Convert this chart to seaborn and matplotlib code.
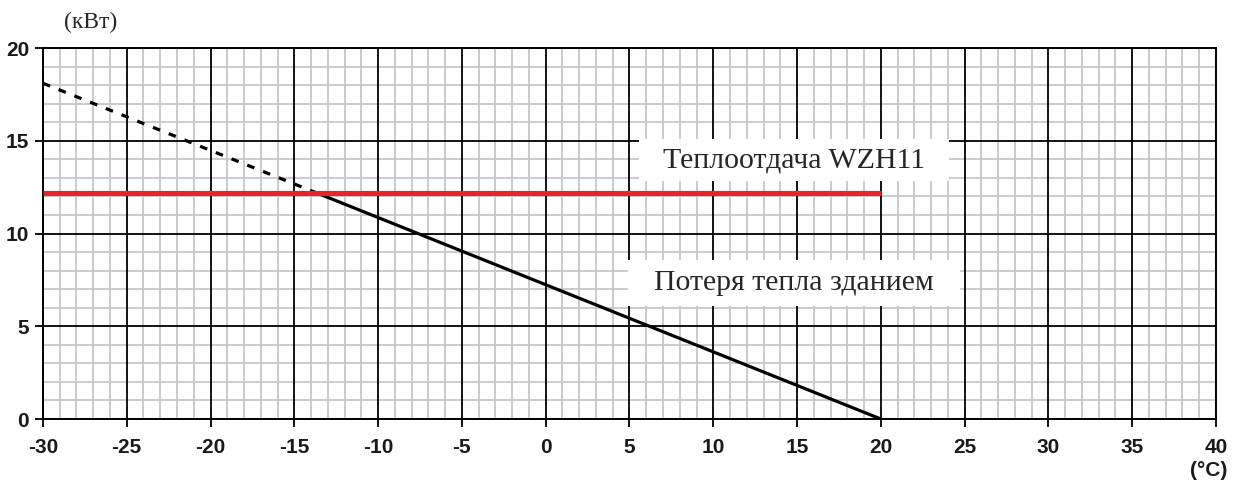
import numpy as np
import pandas as pd
import matplotlib
matplotlib.use("Agg")
import matplotlib.pyplot as plt
import seaborn as sns
from matplotlib.ticker import MultipleLocator
from matplotlib.patches import Rectangle

# Building heat loss vs outdoor temperature
loss_temp = [-30, 20]          # °C
loss_kw = [18.1, 0.0]          # kW
# Heat output of the unit
output_temp = [-30, 20]
output_kw = [12.2, 12.2]

x_ticks = [-30, -25, -20, -15, -10, -5, 0, 5, 10, 15, 20, 25, 30, 35, 40]
y_ticks = [0, 5, 10, 15, 20]

label_output = "Теплоотдача WZH11"
label_loss = "Потеря тепла зданием"

sns.set_theme(style="white")
sans_narrow = ["Liberation Sans Narrow", "Liberation Sans", "DejaVu Sans"]
plt.rcParams["font.family"] = sans_narrow
plt.rcParams["axes.unicode_minus"] = False

fig = plt.figure(figsize=(12.45, 4.83), dpi=100)
ax = fig.add_axes([0.0345, 0.1325, 0.9422, 0.7681])

# balance point: where the loss line meets the output level
slope = (loss_kw[1] - loss_kw[0]) / (loss_temp[1] - loss_temp[0])
x_bal = loss_temp[0] + (output_kw[0] - loss_kw[0]) / slope

dashed = pd.DataFrame({"t": [loss_temp[0], x_bal], "q": [loss_kw[0], output_kw[0]]})
solid = pd.DataFrame({"t": [x_bal, loss_temp[1]], "q": [output_kw[0], loss_kw[1]]})
out_df = pd.DataFrame({"t": output_temp, "q": output_kw})

sns.lineplot(data=dashed, x="t", y="q", ax=ax, color="black", lw=2.3,
             linestyle=(0, (2.4, 2.9)), zorder=5)
sns.lineplot(data=solid, x="t", y="q", ax=ax, color="black", lw=2.3, zorder=5)
sns.lineplot(data=out_df, x="t", y="q", ax=ax, color="#e8262a", lw=3.7,
             zorder=6, solid_capstyle="butt")

ax.set_xlim(-30, 40)
ax.set_ylim(0, 20)
ax.set_xticks(x_ticks)
ax.set_yticks(y_ticks)
ax.xaxis.set_minor_locator(MultipleLocator(1))
ax.yaxis.set_minor_locator(MultipleLocator(1))
# fine grid underneath, heavy grid at every labelled tick on top of it
ax.grid(which="minor", color="#c6c7ce", lw=1.3)
ax.grid(which="major", visible=False)
ax.set_axisbelow(True)
ax.vlines(x_ticks, 0, 20, colors="black", lw=1.3, zorder=1)
ax.hlines(y_ticks, -30, 40, colors="black", lw=1.3, zorder=1)
for s in ax.spines.values():
    s.set_color("black")
    s.set_linewidth(1.4)

ax.tick_params(which="major", direction="out", length=6, width=1.3,
               color="black", bottom=True, left=True)
ax.tick_params(axis="x", which="major", pad=8)
ax.tick_params(axis="y", which="major", pad=4)
ax.tick_params(which="minor", length=0)
for lab in ax.get_xticklabels() + ax.get_yticklabels():
    lab.set_fontweight("bold")
    lab.set_fontsize(15)
    lab.set_color("#1a1a1a")
ax.set_xlabel("")
ax.set_ylabel("")

serif = ["Liberation Serif", "DejaVu Serif"]
t_out = ax.text(14.8, 13.95, label_output, ha="center", va="center",
                fontsize=21.5, family=serif, zorder=8)
t_loss = ax.text(14.8, 7.35, label_loss, ha="center", va="center",
                 fontsize=21.5, family=serif, zorder=8)

# white backing panels behind the two captions
fig.canvas.draw()
renderer = fig.canvas.get_renderer()
inv = fig.transFigure.inverted()
for t, padx, pady in [(t_out, 24, 8), (t_loss, 26, 10)]:
    bb = t.get_window_extent(renderer)
    (x0, y0) = inv.transform((bb.x0 - padx, bb.y0 - pady))
    (x1, y1) = inv.transform((bb.x1 + padx, bb.y1 + pady))
    ax.add_patch(Rectangle((x0, y0), x1 - x0, y1 - y0, transform=fig.transFigure,
                           fc="white", ec="none", zorder=2.7, clip_on=False))

fig.text(91 / 1245, 1 - 22 / 483, "(кВт)", ha="center", va="center",
         fontsize=17, family=serif)
fig.text(1209 / 1245, 1 - 471 / 483, "(°C)", ha="center", va="center",
         fontsize=15, fontweight="bold", color="#1a1a1a")

fig.savefig("out.png", dpi=100, facecolor="white")
